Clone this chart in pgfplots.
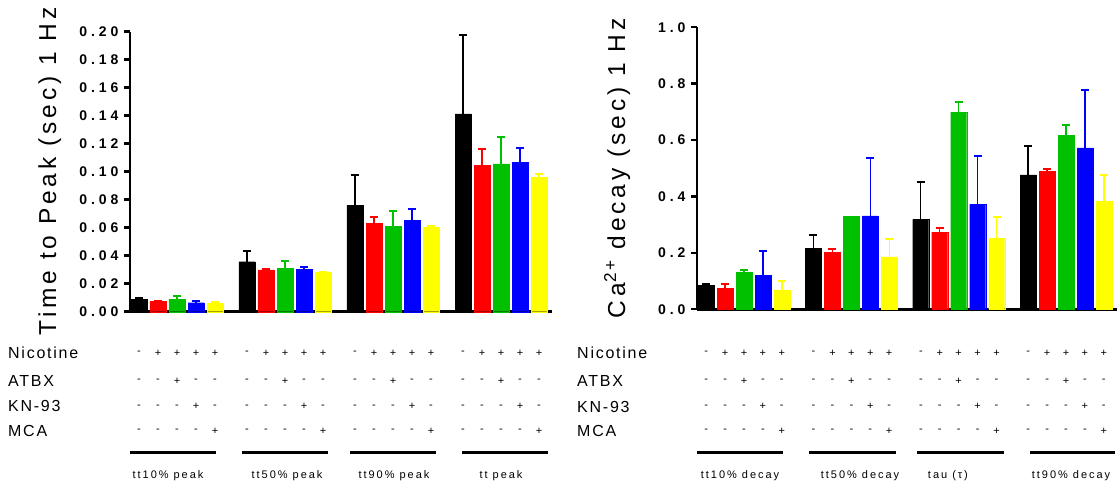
\documentclass[border=0pt]{standalone}
\usepackage{fontspec}
\usepackage{pgfplots}
\usepackage{pgfplotstable}
\pgfplotsset{compat=1.18}
\setmainfont{Liberation Sans}
\newfontfamily\tickfont[LetterSpace=28]{Liberation Sans Bold}
\newfontfamily\labfont[LetterSpace=16]{Liberation Sans}
\newfontfamily\rowfont[LetterSpace=11]{Liberation Sans}
\newfontfamily\grpfont[LetterSpace=18]{Liberation Sans}

\definecolor{cred}{RGB}{255,0,0}
\definecolor{cgreen}{RGB}{0,192,0}
\definecolor{cblue}{RGB}{0,0,255}
\definecolor{cyellow}{RGB}{255,255,0}

% time to peak (sec), mean and upper SEM
\pgfplotstableread{
x   k      ke     r      re     g      ge     b      be     yl     yle
0   0.0088 0.0007 0.0075 0.0004 0.0088 0.0022 0.0064 0.0012 0.0059 0.0010
1   0.0357 0.0077 0.0298 0.0006 0.0312 0.0053 0.0303 0.0014 0.0284 0.0003
2   0.0759 0.0214 0.0633 0.0040 0.0611 0.0110 0.0652 0.0083 0.0602 0.0012
3   0.1413 0.0563 0.1046 0.0117 0.1056 0.0190 0.1065 0.0107 0.0961 0.0019
}\peaktab

% Ca2+ decay (sec), mean and upper SEM
\pgfplotstableread{
x   k     ke    r     re    g     ge    b     be    yl    yle
0   0.086 0.005 0.075 0.013 0.130 0.011 0.121 0.087 0.069 0.031
1   0.216 0.046 0.202 0.013 0.329 0.000 0.331 0.205 0.186 0.062
2   0.319 0.134 0.274 0.014 0.699 0.037 0.372 0.173 0.252 0.077
3   0.477 0.103 0.489 0.010 0.616 0.039 0.572 0.204 0.382 0.093
}\decaytab

\pgfplotsset{
  panel/.style={
    scale only axis, clip=false, ybar,
    axis x line*=bottom, axis y line*=left,
    axis line style={line width=2.6pt, black},
    xtick=\empty,
    tick align=outside, major tick length=6pt,
    major tick style={line width=2.4pt, black},
    yticklabel style={font=\tickfont\fontsize{14}{16}\selectfont, xshift=-2pt},
    ylabel style={font=\labfont\fontsize{24.5}{28}\selectfont,
                  at={(axis description cs:-0.19,0.5)}, anchor=center},
    /pgf/number format/assume math mode=true,
    /pgf/number format/fixed, /pgf/number format/fixed zerofill,
    error bars/y dir=plus, error bars/y explicit,
  },
  ser/.style={fill=#1, draw=#1, line width=0.3pt,
    error bars/error bar style={line width=1.3pt, #1},
    error bars/error mark options={rotate=90, line width=2pt, mark size=4pt, #1}},
}
\tikzset{
  sg/.style={font=\fontsize{11}{12}\selectfont, inner sep=0pt, anchor=center},
  rowlab/.style={font=\rowfont\fontsize{16}{18}\selectfont, inner sep=0pt, anchor=west},
  grplab/.style={font=\grpfont\fontsize{11}{12}\selectfont, inner sep=0pt, anchor=center},
}

% treatment matrix under each group of five bars
\newcommand\signtable[4]{%
  \pgfplotsinvokeforeach{0,1,2,3}{%
    \node[sg] at (axis cs:##1-0.352,#1) {-};
    \node[sg] at (axis cs:##1-0.176,#1) {+};
    \node[sg] at (axis cs:##1,#1) {+};
    \node[sg] at (axis cs:##1+0.176,#1) {+};
    \node[sg] at (axis cs:##1+0.352,#1) {+};
    \node[sg] at (axis cs:##1-0.352,#2) {-};
    \node[sg] at (axis cs:##1-0.176,#2) {-};
    \node[sg] at (axis cs:##1,#2) {+};
    \node[sg] at (axis cs:##1+0.176,#2) {-};
    \node[sg] at (axis cs:##1+0.352,#2) {-};
    \node[sg] at (axis cs:##1-0.352,#3) {-};
    \node[sg] at (axis cs:##1-0.176,#3) {-};
    \node[sg] at (axis cs:##1,#3) {-};
    \node[sg] at (axis cs:##1+0.176,#3) {+};
    \node[sg] at (axis cs:##1+0.352,#3) {-};
    \node[sg] at (axis cs:##1-0.352,#4) {-};
    \node[sg] at (axis cs:##1-0.176,#4) {-};
    \node[sg] at (axis cs:##1,#4) {-};
    \node[sg] at (axis cs:##1+0.176,#4) {-};
    \node[sg] at (axis cs:##1+0.352,#4) {+};
  }}

\begin{document}
\begin{tikzpicture}
\path[use as bounding box] (0,0) rectangle (1117pt,482pt);

% ---- Time to peak ----
\begin{axis}[panel,
  at={(130pt,170.3pt)}, anchor=south west,
  width=422pt, height=280pt,
  xmin=-0.435, xmax=3.472, ymin=0, ymax=0.2,
  ytick={0,0.02,...,0.201},
  yticklabel style={/pgf/number format/precision=2},
  bar width=0.148,
  ylabel={Time to Peak (sec) 1 Hz}]
\addplot[ser=black,   bar shift=-0.352] table[x=x,y=k, y error=ke]  {\peaktab};
\addplot[ser=cred,    bar shift=-0.176] table[x=x,y=r, y error=re]  {\peaktab};
\addplot[ser=cgreen,  bar shift=0]      table[x=x,y=g, y error=ge]  {\peaktab};
\addplot[ser=cblue,   bar shift=0.176]  table[x=x,y=b, y error=be]  {\peaktab};
\addplot[ser=cyellow, bar shift=0.352]  table[x=x,y=yl,y error=yle] {\peaktab};
\node[rowlab] at (axis cs:-1.565,-0.0295) {Nicotine};
\node[rowlab] at (axis cs:-1.565,-0.0495) {ATBX};
\node[rowlab] at (axis cs:-1.565,-0.0677) {KN-93};
\node[rowlab] at (axis cs:-1.565,-0.0852) {MCA};
\signtable{-0.0295}{-0.0495}{-0.0677}{-0.0852}
\draw[line width=3pt] (axis cs:-0.435,-0.1006) -- (axis cs:0.361,-0.1006);
\draw[line width=3pt] (axis cs:0.602,-0.1006) -- (axis cs:1.398,-0.1006);
\draw[line width=3pt] (axis cs:1.602,-0.1006) -- (axis cs:2.398,-0.1006);
\draw[line width=3pt] (axis cs:2.639,-0.1006) -- (axis cs:3.435,-0.1006);
\node[grplab] at (axis cs:-0.083,-0.117) {tt10\% peak};
\node[grplab] at (axis cs:1.019,-0.117) {tt50\% peak};
\node[grplab] at (axis cs:2.009,-0.117) {tt90\% peak};
\node[grplab] at (axis cs:3.0,-0.117) {tt peak};
\end{axis}

% ---- Ca2+ decay ----
\begin{axis}[panel,
  at={(697pt,172.7pt)}, anchor=south west,
  width=420pt, height=282pt,
  xmin=-0.438, xmax=3.475, ymin=0, ymax=1,
  ytick={0,0.2,...,1.01},
  yticklabel style={/pgf/number format/precision=1},
  bar width=0.149,
  ylabel={Ca\textsuperscript{2+} decay (sec) 1 Hz}]
\addplot[ser=black,   bar shift=-0.354] table[x=x,y=k, y error=ke]  {\decaytab};
\addplot[ser=cred,    bar shift=-0.177] table[x=x,y=r, y error=re]  {\decaytab};
\addplot[ser=cgreen,  bar shift=0]      table[x=x,y=g, y error=ge]  {\decaytab};
\addplot[ser=cblue,   bar shift=0.177]  table[x=x,y=b, y error=be]  {\decaytab};
\addplot[ser=cyellow, bar shift=0.354]  table[x=x,y=yl,y error=yle] {\decaytab};
\node[rowlab] at (axis cs:-1.556,-0.155) {Nicotine};
\node[rowlab] at (axis cs:-1.556,-0.2543) {ATBX};
\node[rowlab] at (axis cs:-1.556,-0.3447) {KN-93};
\node[rowlab] at (axis cs:-1.556,-0.4316) {MCA};
\signtable{-0.155}{-0.2543}{-0.3447}{-0.4316}
\draw[line width=3pt] (axis cs:-0.438,-0.5078) -- (axis cs:0.363,-0.5078);
\draw[line width=3pt] (axis cs:0.606,-0.5078) -- (axis cs:1.416,-0.5078);
\draw[line width=3pt] (axis cs:1.612,-0.5078) -- (axis cs:2.423,-0.5078);
\draw[line width=3pt] (axis cs:2.665,-0.5078) -- (axis cs:3.457,-0.5078);
\node[grplab] at (axis cs:-0.037,-0.5894) {tt10\% decay};
\node[grplab] at (axis cs:1.081,-0.5894) {tt50\% decay};
\node[grplab] at (axis cs:1.9,-0.5894) {tau (τ)};
\node[grplab] at (axis cs:3.047,-0.5894) {tt90\% decay};
\end{axis}
\end{tikzpicture}
\end{document}
